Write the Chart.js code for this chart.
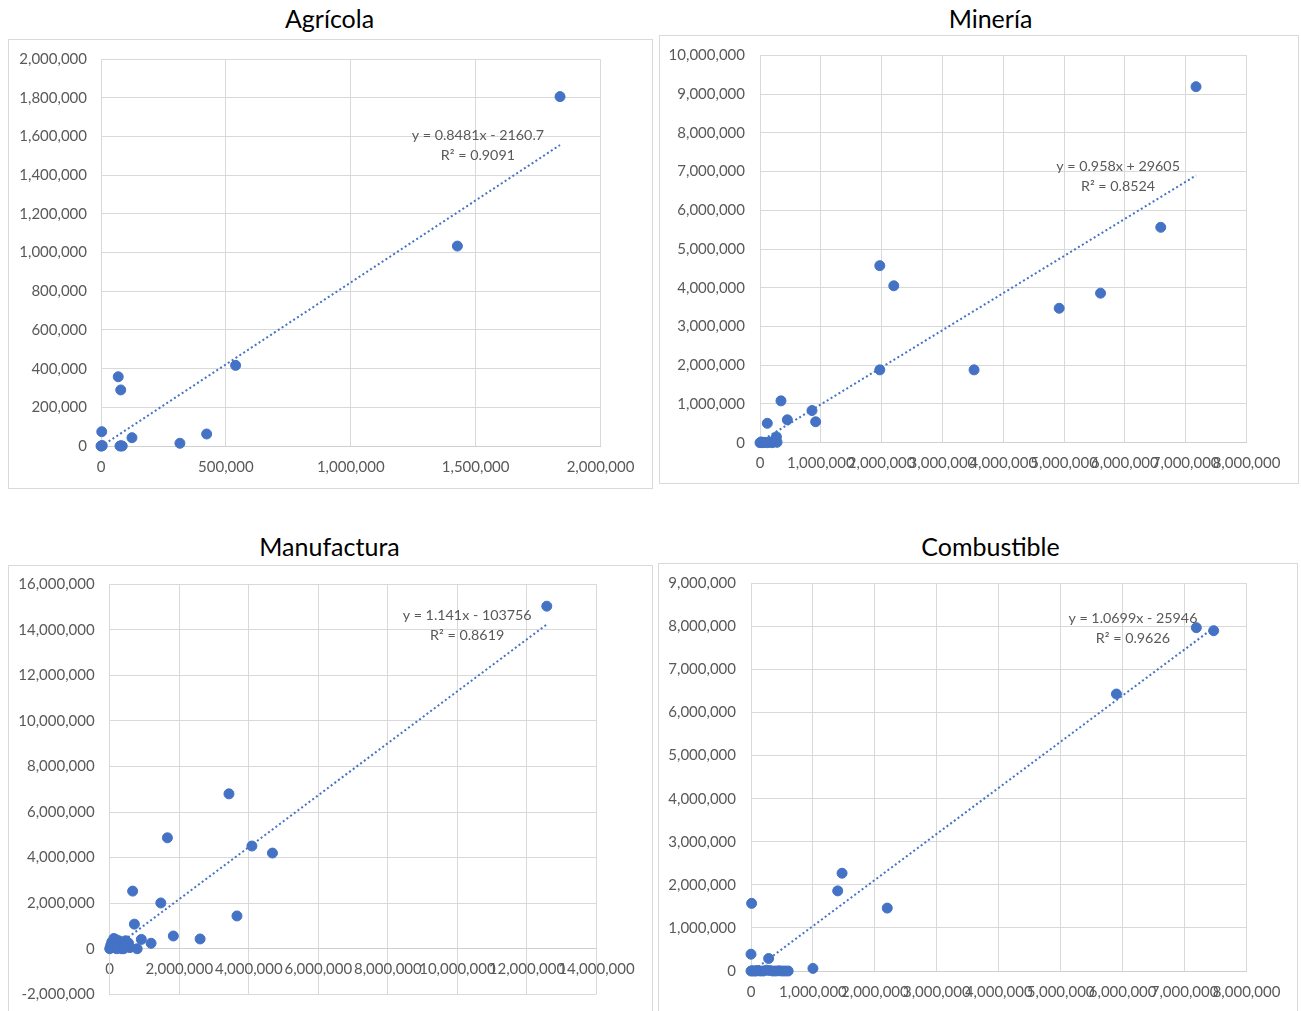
<!DOCTYPE html>
<html><head><meta charset="utf-8">
<script src="https://cdn.jsdelivr.net/npm/chart.js@4/dist/chart.umd.min.js"></script>
<style>
html,body{margin:0;padding:0;background:#fff;overflow:hidden;width:1301px;height:1011px;}
.box{position:absolute;border:1px solid #d9d9d9;box-sizing:border-box;background:#fff;}
canvas{position:absolute;}
.title{position:absolute;width:400px;text-align:center;font-family:Lato,Carlito,sans-serif;font-size:25px;color:#000;line-height:26px;}
</style></head><body>
<div class="title" style="left:129.5px;top:5px;">Agrícola</div>
<div class="title" style="left:790.5px;top:5px;">Minería</div>
<div class="title" style="left:129.5px;top:533px;">Manufactura</div>
<div class="title" style="left:790.5px;top:533px;">Combustible</div>
<div class="box" style="left:8px;top:39px;width:645px;height:450px;"></div>
<div class="box" style="left:659px;top:35px;width:640px;height:449px;"></div>
<div class="box" style="left:8px;top:565px;width:645px;height:470px;"></div>
<div class="box" style="left:658px;top:563px;width:640px;height:470px;"></div>
<canvas id="c1" width="645" height="450" style="left:8px;top:39px;"></canvas>
<canvas id="c2" width="640" height="449" style="left:659px;top:35px;"></canvas>
<canvas id="c3" width="645" height="470" style="left:8px;top:565px;"></canvas>
<canvas id="c4" width="640" height="470" style="left:658px;top:563px;"></canvas>
<script>
// ---- Data ----
const agriX = [1838000,1427000,539000,423000,316000,124000,69000,79000,3000,0,2000,5000,76000,85000,80000];
const agriY = [1807000,1034000,417000,62000,14000,43000,358000,290000,74000,0,0,2000,0,0,1000];
const agriTrend = {slope:0.8481, intercept:-2160.7, eq:'y = 0.8481x - 2160.7', r2:'R² = 0.9091'};

const minX = [7170000,6590000,5600000,4920000,3520000,1970000,2200000,1970000,855000,915000,450000,345000,120000,270000,0,40000,80000,120000,160000,200000,240000,280000,260000,20000,60000];
const minY = [9190000,5560000,3860000,3470000,1880000,4570000,4050000,1880000,830000,540000,590000,1080000,500000,150000,0,0,10000,0,20000,0,30000,10000,80000,20000,5000];
const minTrend = {slope:0.958, intercept:29605, eq:'y = 0.958x + 29605', r2:'R² = 0.8524'};

const manX = [12570000,3430000,1660000,4090000,4680000,660000,1470000,3660000,710000,1830000,2600000,1190000,910000,790000,0,30000,60000,100000,140000,180000,220000,260000,300000,340000,380000,420000,460000,500000,540000,580000,200000,120000,400000];
const manY = [15040000,6800000,4870000,4510000,4200000,2530000,2010000,1440000,1080000,560000,430000,240000,410000,0,0,150000,300000,50000,250000,400000,100000,350000,200000,0,300000,150000,350000,100000,250000,50000,0,450000,0];
const manTrend = {slope:1.141, intercept:-103756, eq:'y = 1.141x - 103756', r2:'R² = 0.8619'};

const combX = [7190000,7470000,5900000,1470000,1400000,2200000,10000,0,285000,1000000,0,50000,100000,150000,200000,250000,300000,350000,400000,450000,500000,550000,600000,20000,80000];
const combY = [7970000,7900000,6430000,2270000,1860000,1460000,1570000,390000,290000,60000,0,0,10000,0,0,20000,10000,0,0,5000,0,0,0,5000,0];
const combTrend = {slope:1.0699, intercept:-25946, eq:'y = 1.0699x - 25946', r2:'R² = 0.9626'};

// ---- Axis ranges ----
const agriAxes = {xMin:0, xMax:2000000, xStep:500000, yMin:0, yMax:2000000, yStep:200000};
const minAxes  = {xMin:0, xMax:8000000, xStep:1000000, yMin:0, yMax:10000000, yStep:1000000};
const manAxes  = {xMin:0, xMax:14000000, xStep:2000000, yMin:-2000000, yMax:16000000, yStep:2000000};
const combAxes = {xMin:0, xMax:8000000, xStep:1000000, yMin:0, yMax:9000000, yStep:1000000};

// ---- Styling / layout ----
const BLUE = '#4472C4';
const GRID = '#d9d9d9';
const TXT = '#595959';
const FONT = 'Lato, Carlito, sans-serif';

function fmt(v){ return Number(v).toLocaleString('en-US'); }

const eqPlugin = {
  id:'eqLabel',
  afterDatasetsDraw(chart){
    const o = chart.options.plugins.eqLabel;
    if(!o) return;
    const ctx = chart.ctx;
    const px = chart.scales.x.getPixelForValue(o.x);
    const py = chart.scales.y.getPixelForValue(o.y);
    ctx.save();
    ctx.font = '14.3px ' + FONT;
    ctx.fillStyle = TXT;
    ctx.textAlign = 'center';
    ctx.textBaseline = 'middle';
    ctx.fillText(o.eq, px, py);
    ctx.fillText(o.r2, px, py + 20);
    ctx.restore();
  }
};

function noPad(s){ s.paddingTop = 0; s.paddingBottom = 0; s.paddingLeft = 0; s.paddingRight = 0; }

function build(id, xs, ys, trend, ax, layout, label){
  const pts = xs.map((x,i)=>({x:x, y:ys[i]}));
  const xLo = Math.min(...xs), xHi = Math.max(...xs);
  const tl = [{x:xLo, y:trend.slope*xLo+trend.intercept},{x:xHi, y:trend.slope*xHi+trend.intercept}];
  new Chart(document.getElementById(id), {
    type:'scatter',
    data:{datasets:[
      {type:'line', data:tl, borderColor:BLUE, borderWidth:2, borderDash:[2,2.6], pointRadius:0, fill:false, clip:false, order:2},
      {data:pts, backgroundColor:BLUE, borderColor:BLUE, borderWidth:1, pointRadius:5, clip:false, order:1}
    ]},
    options:{
      responsive:false, animation:false, events:[],
      layout:{autoPadding:false, padding:{left:0, top:layout.pt, right:layout.pr, bottom:layout.pb}},
      plugins:{legend:{display:false}, tooltip:{enabled:false}, title:{display:false},
        eqLabel:{x:label.x, y:label.y, eq:trend.eq, r2:trend.r2}},
      scales:{
        x:{type:'linear', position:{y:0}, min:ax.xMin, max:ax.xMax,
           afterFit:(s)=>{ noPad(s); },
           ticks:{stepSize:ax.xStep, autoSkip:false, maxRotation:0, minRotation:0, padding:layout.xpad, color:TXT, font:{family:FONT, size:15}, callback:fmt},
           grid:{color:GRID, lineWidth:1, drawTicks:false},
           border:{display:true, color:'#cfcfcf'}},
        y:{type:'linear', position:'left', min:ax.yMin, max:ax.yMax,
           afterFit:(s)=>{ s.width = layout.yW; noPad(s); },
           ticks:{stepSize:ax.yStep, autoSkip:false, padding:layout.ypad, color:TXT, font:{family:FONT, size:15}, callback:fmt},
           grid:{color:GRID, lineWidth:1, drawTicks:false},
           border:{display:true, color:GRID}}
      }
    },
    plugins:[eqPlugin]
  });
}

build('c1', agriX, agriY, agriTrend, agriAxes, {pt:20.3, pr:52.5, pb:43, yW:93, xpad:12, ypad:14}, {x:1509000, y:1608000});
build('c2', minX, minY, minTrend, minAxes, {pt:20.3, pr:52.5, pb:41.3, yW:101, xpad:11, ypad:15}, {x:5888000, y:7142000});
build('c3', manX, manY, manTrend, manAxes, {pt:19.3, pr:56.5, pb:40.7, yW:101.7, xpad:11, ypad:15}, {x:10280000, y:14650000});
build('c4', combX, combY, combTrend, combAxes, {pt:20.3, pr:51.5, pb:62, yW:93, xpad:12, ypad:15}, {x:6166000, y:8190000});
</script>
</body></html>
